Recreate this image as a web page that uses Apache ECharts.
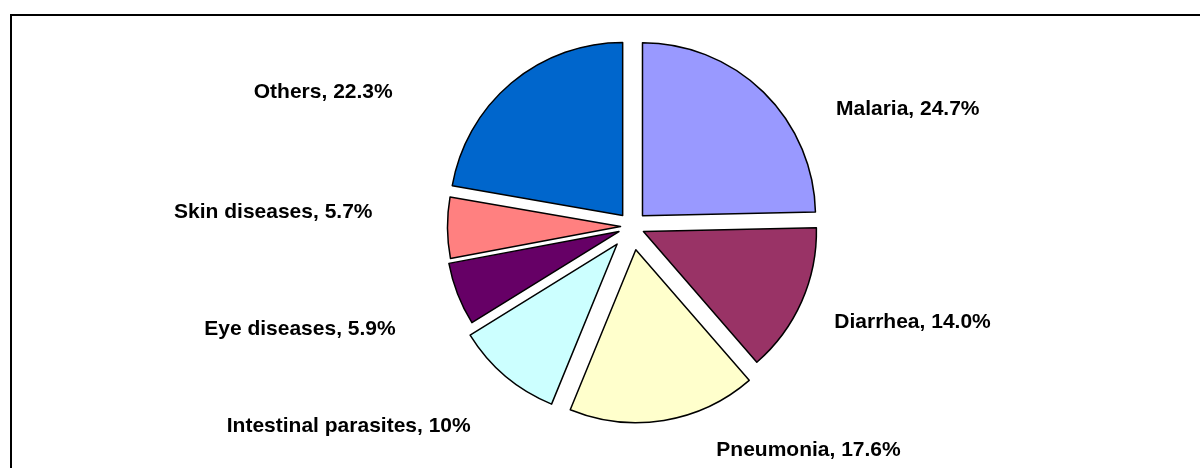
<!DOCTYPE html>
<html>
<head>
<meta charset="utf-8">
<script src="https://cdn.jsdelivr.net/npm/echarts@6/dist/echarts.min.js"></script>
<style>
  html, body { margin: 0; padding: 0; background: #fff; }
  #chart { width: 1200px; height: 468px; }
</style>
</head>
<body>
<div id="chart"></div>
<script>
// disease shares, clockwise from 12 o'clock
var categories = ['Malaria', 'Diarrhea', 'Pneumonia', 'Intestinal parasites', 'Eye diseases', 'Skin diseases', 'Others'];
var values = [24.7, 14.0, 17.6, 10, 5.9, 5.7, 22.3];
var valueLabels = ['24.7%', '14.0%', '17.6%', '10%', '5.9%', '5.7%', '22.3%'];
var colors = ['#9999FF', '#993366', '#FFFFCC', '#CCFFFF', '#660066', '#FF8080', '#0066CC'];

// each slice was pulled out by hand in the original, so its own offset
var explode = [15, 12.5, 23.5, 23, 14, 11.5, 14.5];
// small nudges so labels sit where excel put them
var labelNudge = [[57, 28], [14, 14], [45, 15], [-20, 39], [-43, 30], [-55, -16], [-104, 21]];

var chart = echarts.init(document.getElementById('chart'));

// one pie per slice: same data, only slice i painted, with its own offset
var series = categories.map(function (c, i) {
    return {
        type: 'pie',
        center: [632, 226.5],
        radius: 173,
        startAngle: 90,
        clockwise: true,
        selectedMode: 'multiple',
        selectedOffset: explode[i],
        avoidLabelOverlap: false,
        silent: true,
        emphasis: { disabled: true },
        label: {
            position: 'outside',
            color: '#000',
            fontFamily: 'Liberation Sans, Arial, sans-serif',
            fontWeight: 'bold',
            fontSize: 21,
            formatter: function (p) {
                return p.name + ', ' + valueLabels[p.dataIndex];
            }
        },
        labelLine: { show: false, length: 15, length2: 0 },
        labelLayout: function (p) {
            var n = labelNudge[p.dataIndex];
            return { dx: n[0], dy: n[1] };
        },
        data: categories.map(function (name, j) {
            var on = (j === i);
            return {
                name: name,
                value: values[j],
                selected: true,
                itemStyle: on
                    ? { color: colors[j], borderColor: '#000', borderWidth: 1.5 }
                    : { color: 'transparent', borderWidth: 0 },
                label: { show: on }
            };
        })
    };
});

var option = {
    animation: false,
    graphic: [{
        type: 'rect',
        shape: { x: 11, y: 15, width: 1300, height: 600 },
        style: { fill: 'none', stroke: '#000', lineWidth: 2 },
        silent: true
    }],
    series: series
};

chart.setOption(option);

window.addEventListener('resize', function () {
    chart.resize();
});
</script>
</body>
</html>
